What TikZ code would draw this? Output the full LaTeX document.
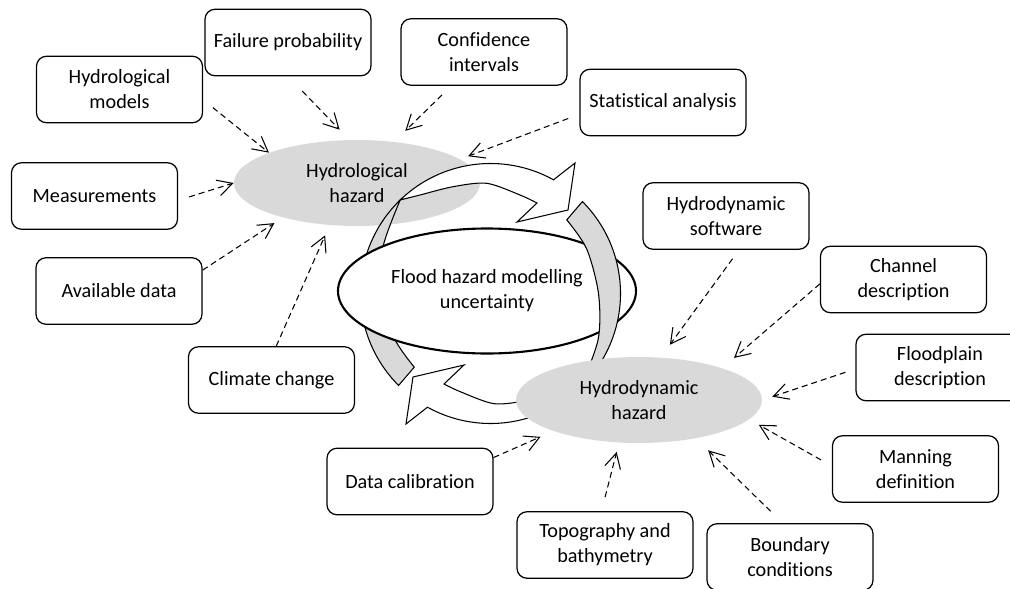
\documentclass[tikz,border=0pt]{standalone}
\usepackage{fontspec}
\setmainfont{Carlito}[Ligatures=NoCommon]
\usetikzlibrary{arrows.meta, shapes.geometric}

\begin{document}
\begin{tikzpicture}[x=0.2mm, y=0.2mm, >={Straight Barb[length=3mm, width=3.2mm]},
  factor/.style={draw, line width=0.7pt, rounded corners=2mm, minimum width=33.2mm,
    minimum height=13.3mm, align=center, font=\fontsize{11.5}{14.2}\selectfont},
  hazard/.style={ellipse, fill=black!15, minimum width=49.2mm, minimum height=17.2mm,
    inner sep=0pt, align=center, font=\fontsize{11.5}{14.2}\selectfont},
  core/.style={ellipse, draw, line width=1.2pt, fill=white, minimum width=59.6mm,
    minimum height=25mm, align=center, font=\fontsize{11.5}{14.2}\selectfont},
  band/.style={draw, line width=0.6pt},
  feed/.style={->, line width=0.6pt, dash pattern=on 1.2mm off 0.8mm}]

\useasboundingbox (0,0) rectangle (1010,-588);

% Hydrological hazard (lies under the upper arrow)
\node[hazard] (hhaz) at (357,-183) {Hydrological\\hazard};

% Upper circular arrow: grey back part, white front part with head
\begin{scope}[shift={(490.5,-293.5)}]
  \draw[band, fill=black!15] (134:130) arc[start angle=134, end angle=225, radius=130]
    -- plot[smooth] coordinates {(224:106) (205:106) (180:108) (157:117) (134:130)} -- cycle;
  \draw[band, fill=white] (134:130) arc[start angle=134, end angle=61, radius=130]
    -- (84.5,130.5) -- (77.5,83.5) -- (26.5,71.5) -- (46.5,90.5)
    -- plot[smooth] coordinates {(46.5,90.5) (29.5,98.5) (-3.8,110.2) (-37.5,106.8) (-70.5,98.5) (134:130)} -- cycle;
\end{scope}

% Centre
\node[core] (core) at (487,-291) {Flood hazard modelling\\uncertainty};

% Lower circular arrow (same shape turned half round), grey part over the centre
\begin{scope}[shift={(490.5,-293.5)}, rotate=180]
  \draw[band, fill=black!15] (134:130) arc[start angle=134, end angle=225, radius=130]
    -- plot[smooth] coordinates {(224:106) (205:106) (180:108) (157:117) (134:130)} -- cycle;
  \draw[band, fill=white] (134:130) arc[start angle=134, end angle=61, radius=130]
    -- (84.5,130.5) -- (77.5,83.5) -- (26.5,71.5) -- (46.5,90.5)
    -- plot[smooth] coordinates {(46.5,90.5) (29.5,98.5) (-3.8,110.2) (-37.5,106.8) (-70.5,98.5) (134:130)} -- cycle;
\end{scope}

% Hydrodynamic hazard (covers the lower arrow)
\node[hazard] (hdyn) at (639,-400) {Hydrodynamic\\hazard};

% Sources of hydrological uncertainty
\node[factor] (hmod) at (119.5,-89.5) {Hydrological\\models};
\node[factor] (fail) at (288,-42.5) {Failure probability};
\node[factor] (conf) at (484,-52) {Confidence\\intervals};
\node[factor] (stat) at (663,-102.5) {Statistical analysis};
\node[factor] (meas) at (94.5,-196) {Measurements};
\node[factor] (avail) at (119,-291) {Available data};
\node[factor] (clim) at (271.5,-380) {Climate change};

% Sources of hydrodynamic uncertainty
\node[factor] (hsoft) at (726,-216) {Hydrodynamic\\software};
\node[factor] (chan) at (903.5,-279.5) {Channel\\description};
\node[factor, minimum width=33.6mm] (flood) at (940,-367.5) {Floodplain\\description};
\node[factor] (mann) at (915.5,-469) {Manning\\definition};
\node[factor] (bound) at (790,-557) {Boundary\\conditions};
\node[factor, minimum width=35.2mm] (topo) at (605,-545) {Topography and\\bathymetry};
\node[factor] (dcal) at (410,-481.5) {Data calibration};

% Dashed links into hydrological hazard
\draw[feed, shorten <=2.5mm] (hmod.-7) -- (hhaz.161);
\draw[feed, shorten <=4.1mm, shorten >=2.8mm] (fail.south) -- (hhaz.100);
\draw[feed, shorten <=2.6mm, shorten >=3.1mm] (conf.-134) -- (hhaz.48);
\draw[feed, shorten <=2.4mm, shorten >=1.7mm] (stat.188) -- (hhaz.13);
\draw[feed, shorten <=2.3mm] (meas.-3) -- (hhaz.180);
\draw[feed, shorten >=2mm] (avail.14) -- (hhaz.205);
\draw[feed, shorten >=2.2mm] (clim.82) -- (hhaz.-123);

% Dashed links into hydrodynamic hazard
\draw[feed, shorten <=2.2mm, shorten >=3.1mm] (hsoft.-69) -- (hdyn.63);
\draw[feed, shorten >=3.1mm] (chan.183) -- (hdyn.21);
\draw[feed, shorten <=2.1mm, shorten >=2.1mm] (flood.181) -- (hdyn.0);
\draw[feed, shorten <=2.5mm, shorten >=2.2mm] (mann.178) -- (hdyn.-10);
\draw[feed, shorten <=3.4mm, shorten >=3.4mm] (bound.102) -- (hdyn.-34);
\draw[feed, shorten <=2.9mm, shorten >=1.9mm] (topo.96) -- (hdyn.-115);
\draw[feed, shorten >=2.8mm] (dcal.16) -- (hdyn.200);

\end{tikzpicture}
\end{document}
